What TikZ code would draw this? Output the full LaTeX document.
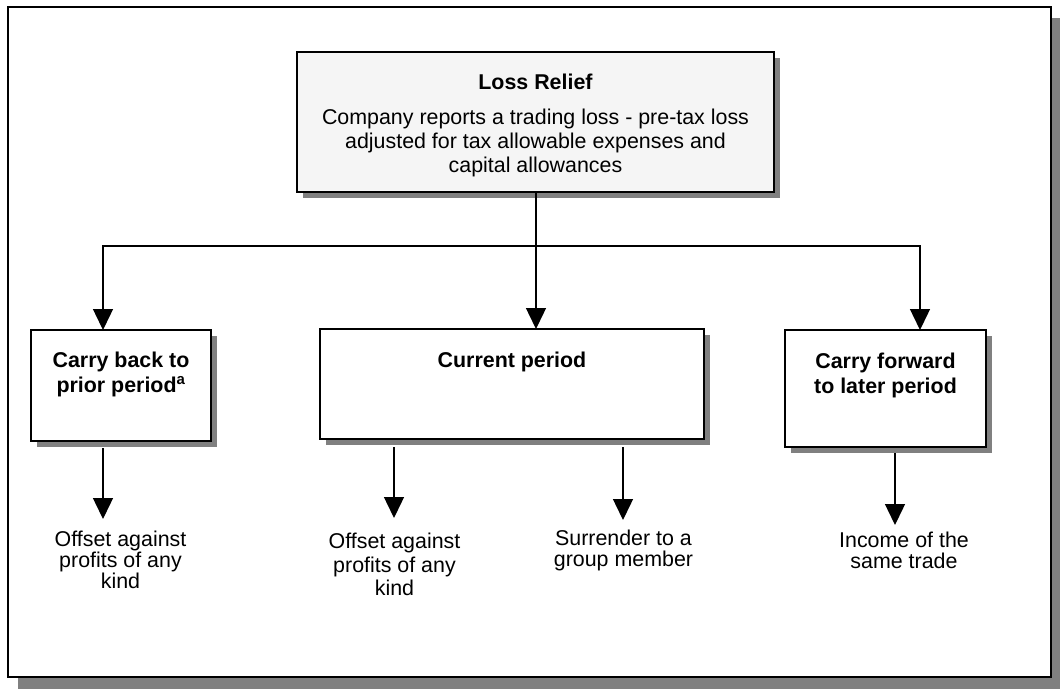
\documentclass[tikz,border=0pt]{standalone}
\usepackage{fontspec}
\setmainfont{Liberation Sans}
\usetikzlibrary{arrows.meta,shadows}
\begin{document}
\begin{tikzpicture}[x=1pt,y=-1pt,
  every node/.style={inner sep=0pt, outer sep=0pt},
  box/.style={draw=black, line width=1.8pt, fill=white, anchor=north west,
     drop shadow={shadow xshift=6pt, shadow yshift=-6pt, fill=black!50, opacity=1, draw=none}},
  head/.style={font=\fontsize{21.4}{25}\selectfont\bfseries, align=center, anchor=north},
  body/.style={font=\fontsize{21.4}{24}\selectfont, align=center, anchor=north},
  outtxt/.style={font=\fontsize{21.4}{21}\selectfont, align=center, anchor=north},
  conn/.style={line width=1.4pt},
  arr/.style={conn, -{Triangle[width=20pt,length=21pt]}},
]
\useasboundingbox (0,0) rectangle (1060,689);
\fill[black!50] (18,18) rectangle (1060,689);
\node[draw, line width=2.4pt, fill=white, anchor=north west, minimum width=1043pt, minimum height=670pt] (frame) at (8,7) {};

% top box
\node[box, fill=black!4, minimum width=477pt, minimum height=140pt] (top) at (297,52) {};
\node[head] (title) at (535.5,74) {Loss Relief};
\node[body] (desc) at (535.5,109) {Company reports a trading loss - pre-tax loss\\adjusted for tax allowable expenses and\\capital allowances};

% second row boxes
\node[box, minimum width=180pt, minimum height=111pt] (back) at (31,330) {};
\node[head] (backt) at (121,352) {Carry back to\\prior period\textsuperscript{a}};
\node[box, minimum width=384pt, minimum height=110pt] (mid) at (320,329) {};
\node[head] (midt) at (512,352) {Current period};
\node[box, minimum width=201pt, minimum height=117pt] (fwd) at (785,330) {};
\node[head] (fwdt) at (885.5,353) {Carry forward\\to later period};

% outcome texts
\node[outtxt] (o1) at (120.5,531) {Offset against\\profits of any\\kind};
\node[outtxt, font=\fontsize{21.4}{23.5}\selectfont] (o2) at (394.5,533) {Offset against\\profits of any\\kind};
\node[outtxt] (o3) at (623.5,530) {Surrender to a\\group member};
\node[outtxt] (o4) at (904,532) {Income of the\\same trade};

% connectors
\coordinate (j) at (536,246);
\draw[conn] (top.south -| j) -- (j);
\draw[arr] (j) -- (mid.north -| j);
\draw[arr] (j) -| (back.north -| 103,0);
\draw[arr] (j) -| (fwd.north -| 920,0);

\coordinate (t1) at (103,519);
\coordinate (t2) at (394,518);
\coordinate (t3) at (623,520);
\coordinate (t4) at (895,525);
\draw[arr] ([yshift=-7pt]back.south -| t1) -- (t1);
\draw[arr] ([yshift=-8pt]mid.south -| t2) -- (t2);
\draw[arr] ([yshift=-8pt]mid.south -| t3) -- (t3);
\draw[arr] ([yshift=-6pt]fwd.south -| t4) -- (t4);
\end{tikzpicture}
\end{document}
